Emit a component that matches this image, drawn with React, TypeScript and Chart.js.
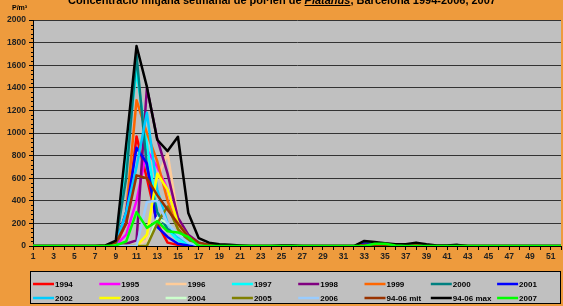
import React, { useEffect, useRef } from "react";
import { Chart, registerables } from "chart.js";

Chart.register(...registerables);

const weeks = [
  "1","2","3","4","5","6","7","8","9","10",
  "11","12","13","14","15","16","17","18","19","20",
  "21","22","23","24","25","26","27","28","29","30",
  "31","32","33","34","35","36","37","38","39","40",
  "41","42","43","44","45","46","47","48","49","50",
  "51","52",
];

const y1994 = [0,0,0,0,0,0,0,0,10,200, 970,600,200,30,10,0,0,0,0,0, 0,0,0,0,0,0,0,0,0,0, 0,0,0,0,0,0,0,0,0,0, 0,0,0,0,0,0,0,0,0,0, 0,0];
const y1995 = [0,0,0,0,0,0,0,0,5,100, 400,850,700,500,200,80,20,5,0,0, 0,0,0,0,0,0,0,0,0,0, 0,0,15,5,0,0,0,0,0,0, 0,0,0,0,0,0,0,0,0,0, 0,0];
const y1996 = [0,0,0,0,0,0,0,0,0,0, 0,50,600,820,250,60,20,0,0,0, 0,0,0,0,0,0,0,0,0,0, 0,0,0,0,0,0,0,0,0,0, 0,0,0,0,0,0,0,0,0,0, 0,0];
const y1997 = [0,0,0,0,0,0,0,0,30,800, 1550,900,300,150,50,20,5,0,0,0, 0,0,0,0,0,0,0,0,0,0, 0,0,0,0,0,0,0,0,0,0, 0,0,0,0,0,0,0,0,0,0, 0,0];
const y1998 = [0,0,0,0,0,0,0,0,0,20, 50,1400,950,640,250,100,30,10,0,0, 0,0,0,0,0,0,0,0,0,0, 0,0,0,0,0,0,0,0,0,0, 0,0,0,0,0,0,0,0,0,0, 0,0];
const y1999 = [0,0,0,0,0,0,0,0,20,300, 1290,1000,750,400,150,50,10,0,0,0, 0,0,0,0,0,0,0,0,0,0, 0,0,0,0,0,0,0,0,0,0, 0,0,0,0,0,0,0,0,0,0, 0,0];
const y2000 = [0,0,0,0,0,0,0,0,30,600, 1690,700,300,150,100,60,10,0,0,0, 0,0,0,0,0,0,0,0,0,0, 0,0,30,15,0,0,0,0,0,0, 0,0,0,0,0,0,0,0,0,0, 0,0];
const y2001 = [0,0,0,0,0,0,0,0,10,300, 870,730,170,80,20,5,0,0,0,0, 0,0,0,0,0,0,0,0,0,0, 0,0,20,10,0,0,0,0,0,0, 0,0,0,0,0,0,0,0,0,0, 0,0];
const y2002 = [0,0,0,0,0,0,0,0,10,300, 700,1180,500,200,80,30,5,0,0,0, 0,0,0,0,0,0,0,0,0,0, 0,0,0,0,0,0,0,0,0,0, 0,0,0,0,0,0,0,0,0,0, 0,0];
const y2003 = [0,0,0,0,0,0,0,0,0,0, 0,100,640,500,200,80,20,0,0,0, 0,0,0,0,0,0,0,0,0,0, 0,0,0,0,0,0,0,0,0,0, 0,0,0,0,0,0,0,0,0,0, 0,0];
const y2004 = [0,0,0,0,0,0,0,0,0,0, 0,0,250,200,100,80,20,0,0,0, 0,0,0,0,0,0,0,0,0,0, 0,0,0,0,0,0,0,0,0,0, 0,0,0,0,0,0,0,0,0,0, 0,0];
const y2005 = [0,0,0,0,0,0,0,0,0,0, 0,0,200,350,150,50,10,0,0,0, 0,0,0,0,0,0,0,0,0,0, 0,0,0,0,0,0,0,0,0,0, 0,0,0,0,0,0,0,0,0,0, 0,0];
const y2006 = [0,0,0,0,0,0,0,0,0,0, 0,390,400,200,100,30,5,0,0,0, 0,0,0,0,0,0,0,0,0,0, 0,0,0,0,0,0,0,0,0,0, 0,0,0,0,0,0,0,0,0,0, 0,0];
const mean9406 = [0,0,0,0,0,0,0,5,30,200, 625,600,450,320,200,80,30,10,5,0, 0,0,0,0,0,0,0,0,0,0, 0,0,10,5,0,0,0,10,0,0, 0,5,0,0,0,0,0,0,0,0, 0,0];
const max9406 = [0,0,0,0,0,0,0,5,47,900, 1770,1410,940,840,967,292,70,30,15,10, 5,0,0,0,5,5,0,0,0,0, 0,0,45,35,25,15,15,30,15,5, 5,10,0,0,0,0,0,0,0,0, 0,0];
const y2007 = [0,0,0,0,0,0,0,0,5,40, 300,160,220,130,120,80,0,0,0,0, 0,0,0,0,0,0,0,0,0,0, 0,0,0,20,20,5,0,0,0,0, 0,0,0,0,0,0,0,0,0,0, 0,0];

const seriesLabels = ["1994","1995","1996","1997","1998","1999","2000","2001","2002","2003","2004","2005","2006","94-06 mit","94-06 max","2007"];
const seriesData = [y1994,y1995,y1996,y1997,y1998,y1999,y2000,y2001,y2002,y2003,y2004,y2005,y2006,mean9406,max9406,y2007];
const seriesColors = ["#FF0000","#FF00FF","#FFCC99","#00FFFF","#800080","#FF6600","#008080","#0000FF","#00CCFF","#FFFF00","#CCFFCC","#808000","#99CCFF","#993300","#000000","#00FF00"];

const titleA = "Concentració mitjana setmanal de pol·len de ";
const titleB = "Platanus";
const titleC = ", Barcelona 1994-2006, 2007";
const unitLabel = "P/m³";

const ORANGE = "#EE9B3D";
const GRAY = "#C0C0C0";
const FONT = "'Liberation Sans', Arial, sans-serif";

export default function App() {
  const ref = useRef<HTMLCanvasElement>(null);
  useEffect(() => {
    document.body.style.margin = "0";
    document.body.style.background = ORANGE;
    const canvas = ref.current!;
    const bgPlugin = {
      id: "bg",
      beforeDraw(chart: any) {
        const { ctx, chartArea } = chart;
        ctx.save();
        ctx.fillStyle = ORANGE;
        ctx.fillRect(0, 0, chart.width, chart.height);
        ctx.fillStyle = GRAY;
        ctx.fillRect(chartArea.left, chartArea.top, chartArea.right - chartArea.left, chartArea.bottom - chartArea.top);
        ctx.restore();
      },
      afterDraw(chart: any) {
        const { ctx, chartArea, scales } = chart;
        ctx.save();
        ctx.strokeStyle = "#000";
        ctx.lineWidth = 1;
        const ys = scales.y;
        for (let v = 0; v <= 2000; v += 40) {
          if (v % 200 === 0) continue;
          const py = Math.round(ys.getPixelForValue(v)) + 0.5;
          ctx.beginPath();
          ctx.moveTo(chartArea.left - 2, py);
          ctx.lineTo(chartArea.left, py);
          ctx.stroke();
        }
        const cx = 282;
        const by = 4;
        ctx.fillStyle = "#000";
        ctx.textBaseline = "alphabetic";
        ctx.textAlign = "left";
        const fB = `bold 11px ${FONT}`;
        const fI = `italic bold 11px ${FONT}`;
        ctx.font = fB;
        const wA = ctx.measureText(titleA).width;
        const wC = ctx.measureText(titleC).width;
        ctx.font = fI;
        const wB = ctx.measureText(titleB).width;
        let x = cx - (wA + wB + wC) / 2;
        ctx.font = fB;
        ctx.fillText(titleA, x, by);
        x += wA;
        ctx.font = fI;
        ctx.fillText(titleB, x, by);
        ctx.fillRect(x, by + 1, wB, 1);
        x += wB;
        ctx.font = fB;
        ctx.fillText(titleC, x, by);
        ctx.font = `bold 7px ${FONT}`;
        ctx.textAlign = "left";
        ctx.textBaseline = "middle";
        ctx.fillText(unitLabel, 12, 8);
        const bx = 30.5, byy = 271.5, bw = 530, bh = 32;
        ctx.fillStyle = GRAY;
        ctx.fillRect(bx, byy, bw, bh);
        ctx.strokeStyle = "#000";
        ctx.lineWidth = 1;
        ctx.strokeRect(bx, byy, bw, bh);
        ctx.font = `bold 8px ${FONT}`;
        ctx.textBaseline = "middle";
        chart.data.datasets.forEach((ds: any, i: number) => {
          const col = i % 8;
          const row = Math.floor(i / 8);
          const x0 = 33 + col * 66.3;
          const y0 = 284 + row * 14;
          ctx.strokeStyle = ds.borderColor;
          ctx.lineWidth = 2.5;
          ctx.beginPath();
          ctx.moveTo(x0, y0);
          ctx.lineTo(x0 + 21, y0);
          ctx.stroke();
          ctx.fillStyle = "#000";
          ctx.fillText(ds.label, x0 + 22, y0 + 0.5);
        });
        ctx.restore();
      },
    };
    const chart = new Chart(canvas, {
      type: "line",
      data: {
        labels: weeks,
        datasets: seriesLabels.map((label, i) => ({
          label,
          data: seriesData[i],
          borderColor: seriesColors[i],
          backgroundColor: seriesColors[i],
          borderWidth: 2.5,
          borderJoinStyle: "round",
          pointRadius: 0,
          tension: 0,
          fill: false,
          order: seriesLabels.length - i,
        })),
      },
      options: {
        animation: false,
        responsive: false,
        devicePixelRatio: 1,
        layout: { padding: { top: 20, left: 0, right: 0, bottom: 0 } },
        plugins: { legend: { display: false }, title: { display: false }, tooltip: { enabled: false } },
        scales: {
          x: {
            offset: false,
            grid: { display: true, drawOnChartArea: false, drawTicks: true, tickLength: 4, color: "#000", tickColor: "#000" },
            border: { display: true, color: "#000", width: 1 },
            ticks: {
              autoSkip: false,
              maxRotation: 0,
              minRotation: 0,
              padding: 2,
              color: "#222",
              font: { family: FONT, size: 8.5, weight: "bold" },
              callback: (_v: any, i: number) => (i % 2 === 0 ? weeks[i] : ""),
            },
            afterFit: (s: any) => { s.height = 60; },
          },
          y: {
            min: 0,
            max: 2000,
            grid: { color: "#333", lineWidth: 1, drawTicks: true, tickLength: 4, tickColor: "#000" },
            border: { display: true, color: "#000", width: 1 },
            ticks: {
              stepSize: 200,
              padding: 3,
              color: "#222",
              font: { family: FONT, size: 8.5, weight: "bold" },
              callback: (v: any) => String(v),
            },
            afterFit: (s: any) => { s.width = 33; },
          },
        },
      },
      plugins: [bgPlugin],
    } as any);
    return () => chart.destroy();
  }, []);
  return (
    <div style={{ width: 563, height: 306 }}>
      <canvas ref={ref} width={563} height={306} style={{ display: "block" }} />
    </div>
  );
}
